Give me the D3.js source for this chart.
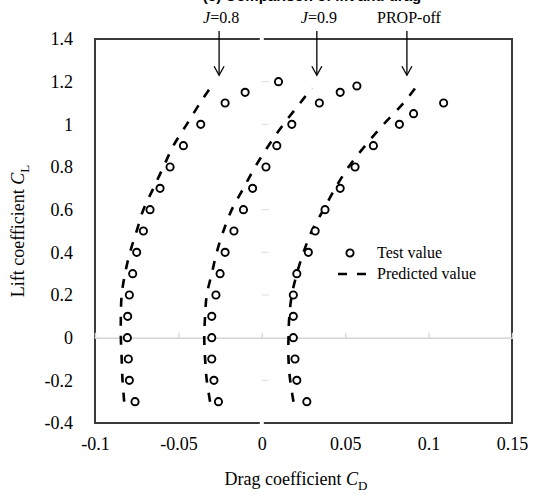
<html>
<head>
  <meta charset="utf-8" />
  <title>drag polar</title>
  <script src="https://d3js.org/d3.v7.min.js"></script>
</head>
<style>
  body { margin: 0; background: #fff; }
  svg { display: block; }
  text { font-family: "Liberation Serif", "Times New Roman", serif; fill: #000; }
</style>
<body>
<svg class="main" width="533" height="497"></svg>
<script>

// test values (circles)
var clJ08 = [-0.3, -0.2, -0.1, 0, 0.1, 0.2, 0.3, 0.4, 0.5, 0.6, 0.7, 0.8, 0.9, 1.0, 1.1, 1.15, 1.2]
var cdJ08 = [-0.076, -0.0794, -0.080, -0.0806, -0.0804, -0.0794, -0.0774, -0.075, -0.071, -0.067, -0.061, -0.055, -0.047, -0.0366, -0.022, -0.010, 0.010]

var clJ09 = [-0.3, -0.2, -0.1, 0, 0.1, 0.2, 0.3, 0.4, 0.5, 0.6, 0.7, 0.8, 0.9, 1.0, 1.1, 1.15, 1.18]
var cdJ09 = [-0.026, -0.0287, -0.030, -0.030, -0.030, -0.0275, -0.025, -0.022, -0.0167, -0.011, -0.0055, 0.0025, 0.009, 0.018, 0.0345, 0.047, 0.057]

var clOff = [-0.3, -0.2, -0.1, 0, 0.1, 0.2, 0.3, 0.4, 0.5, 0.6, 0.7, 0.8, 0.9, 1.0, 1.05, 1.1]
var cdOff = [0.027, 0.021, 0.0199, 0.0189, 0.0189, 0.0189, 0.021, 0.0279, 0.032, 0.0379, 0.047, 0.0559, 0.0669, 0.0825, 0.091, 0.109]

// predicted values (dashed curves)
var clPred = [-0.3, -0.2, -0.1, 0, 0.1, 0.2, 0.3, 0.4, 0.5, 0.6, 0.7, 0.8, 0.9, 1.0, 1.1, 1.17]
var predJ08 = [-0.0825, -0.0835, -0.084, -0.0845, -0.0845, -0.084, -0.082, -0.079, -0.075, -0.071, -0.065, -0.059, -0.053, -0.045, -0.037, -0.031]
var predJ09 = [-0.031, -0.033, -0.034, -0.0345, -0.034, -0.033, -0.030, -0.027, -0.023, -0.018, -0.011, -0.004, 0.004, 0.013, 0.023, 0.030]
var predOff = [0.019, 0.017, 0.016, 0.016, 0.0165, 0.018, 0.021, 0.025, 0.030, 0.037, 0.044, 0.052, 0.062, 0.073, 0.085, 0.092]

// annotations
var labels = ["J=0.8", "J=0.9", "PROP-off"]
var labelCd = [-0.0256, 0.033, 0.087]

var xTicks = [-0.1, -0.05, 0, 0.05, 0.1, 0.15]
var yTicks = [-0.4, -0.2, 0, 0.2, 0.4, 0.6, 0.8, 1, 1.2, 1.4]

var pLeft = 95, pRight = 512, pTop = 39, pBottom = 423

var x = d3.scaleLinear().domain([-0.1, 0.15]).range([pLeft, pRight])
var y = d3.scaleLinear().domain([-0.4, 1.4]).range([pBottom, pTop])

function fmt(d) { return String(+d.toFixed(2)) }

var svg = d3.select("svg.main")

// title, cut off by the top edge (only the descenders show)
svg.append("text")
  .attr("x", 312).attr("y", 0.5)
  .attr("text-anchor", "middle")
  .style("font-family", "Arial, 'Liberation Sans', sans-serif")
  .style("font-weight", "bold")
  .style("font-size", "15px")
  .text("(c) Comparison of lift and drag")

// plot frame
svg.append("rect")
  .attr("x", pLeft).attr("y", pTop)
  .attr("width", pRight - pLeft).attr("height", pBottom - pTop)
  .attr("fill", "none")
  .attr("stroke", "#3a3a3a")
  .attr("stroke-width", 2)

// vertical axis at x=0 (white) with faint ticks
svg.append("line")
  .attr("x1", x(0)).attr("x2", x(0))
  .attr("y1", pTop - 2).attr("y2", pBottom + 2)
  .attr("stroke", "#fff").attr("stroke-width", 4)

svg.append("g").selectAll("line")
  .data(yTicks.filter(function (d) { return d > -0.4 && d < 1.4 && d !== 0 }))
  .enter().append("line")
  .attr("x1", x(0)).attr("x2", x(0) + 7)
  .attr("y1", function (d) { return y(d) }).attr("y2", function (d) { return y(d) })
  .attr("stroke", "#e2e2e2").attr("stroke-width", 1.2)

// horizontal axis at y=0 (light grey)
var gx0 = svg.append("g")
  .attr("transform", "translate(0," + y(0) + ")")
  .call(d3.axisTop(x).tickValues(xTicks.slice(1, -1)).tickSize(5).tickFormat(""))
gx0.select(".domain").attr("stroke", "#d4d4d4").attr("stroke-width", 1.5)
gx0.selectAll(".tick line").attr("stroke", "#d4d4d4").attr("stroke-width", 1.2)

// tick labels
var gx = svg.append("g")
  .attr("transform", "translate(0," + pBottom + ")")
  .call(d3.axisBottom(x).tickValues(xTicks).tickSize(0).tickPadding(14).tickFormat(fmt))
gx.select(".domain").remove()
gx.selectAll("text").style("font-size", "18px").style("font-family", "'Liberation Serif', serif")

var gy = svg.append("g")
  .attr("transform", "translate(" + pLeft + ",0)")
  .call(d3.axisLeft(y).tickValues(yTicks).tickSize(0).tickPadding(22).tickFormat(fmt))
gy.select(".domain").remove()
gy.selectAll("text").style("font-size", "18px").style("font-family", "'Liberation Serif', serif")

// axis titles
var xt = svg.append("text")
  .attr("x", 296).attr("y", 485)
  .attr("text-anchor", "middle")
  .style("font-size", "18px")
xt.append("tspan").text("Drag coefficient ")
xt.append("tspan").style("font-style", "italic").text("C")
xt.append("tspan").attr("dy", 5).style("font-size", "13px").text("D")

var yt = svg.append("text")
  .attr("transform", "translate(24," + ((pTop + pBottom) / 2) + ") rotate(-90)")
  .attr("text-anchor", "middle")
  .style("font-size", "18px")
yt.append("tspan").text("Lift coefficient ")
yt.append("tspan").style("font-style", "italic").text("C")
yt.append("tspan").attr("dy", 5).style("font-size", "13px").text("L")

// predicted curves
var line = d3.line()
  .x(function (d) { return x(d[0]) })
  .y(function (d) { return y(d[1]) })
  .curve(d3.curveCatmullRom)

;[predJ08, predJ09, predOff].forEach(function (cd) {
  svg.append("path")
    .datum(cd.map(function (v, i) { return [v, clPred[i]] }))
    .attr("d", line)
    .attr("fill", "none")
    .attr("stroke", "#000")
    .attr("stroke-width", 2.6)
    .attr("stroke-dasharray", "9,10")
})

// test circles
;[[cdJ08, clJ08], [cdJ09, clJ09], [cdOff, clOff]].forEach(function (s) {
  svg.append("g").selectAll("circle")
    .data(s[0].map(function (v, i) { return [v, s[1][i]] }))
    .enter().append("circle")
    .attr("cx", function (d) { return x(d[0]) })
    .attr("cy", function (d) { return y(d[1]) })
    .attr("r", 3.6)
    .attr("fill", "#fff")
    .attr("stroke", "#000")
    .attr("stroke-width", 1.9)
})

// arrows and labels
labels.forEach(function (lab, i) {
  var ax = x(labelCd[i]), y0 = 31, y1 = y(1.23)
  var g = svg.append("g")
  g.append("line").attr("x1", ax).attr("x2", ax).attr("y1", y0).attr("y2", y1)
    .attr("stroke", "#000").attr("stroke-width", 1.3)
  g.append("path")
    .attr("d", "M" + (ax - 5) + "," + (y1 - 9) + "L" + ax + "," + y1 + "L" + (ax + 5) + "," + (y1 - 9))
    .attr("fill", "none").attr("stroke", "#000").attr("stroke-width", 1.3)
  var t = g.append("text").attr("x", ax + 2).attr("y", 23)
    .attr("text-anchor", "middle").style("font-size", "16px")
  if (lab.charAt(0) === "J") {
    t.append("tspan").style("font-style", "italic").text("J")
    t.append("tspan").text(lab.slice(1))
  } else {
    t.text(lab)
  }
})

// legend
var lg = svg.append("g").attr("transform", "translate(338,253)")
lg.append("circle").attr("cx", 12).attr("cy", 0).attr("r", 3.6)
  .attr("fill", "#fff").attr("stroke", "#000").attr("stroke-width", 1.9)
lg.append("text").attr("x", 39).attr("y", 5).style("font-size", "16px").text("Test value")
lg.append("line").attr("x1", 0).attr("x2", 28).attr("y1", 21).attr("y2", 21)
  .attr("stroke", "#000").attr("stroke-width", 2.6).attr("stroke-dasharray", "9,10")
lg.append("text").attr("x", 39).attr("y", 26).style("font-size", "16px").text("Predicted value")

</script>
</body>
</html>
